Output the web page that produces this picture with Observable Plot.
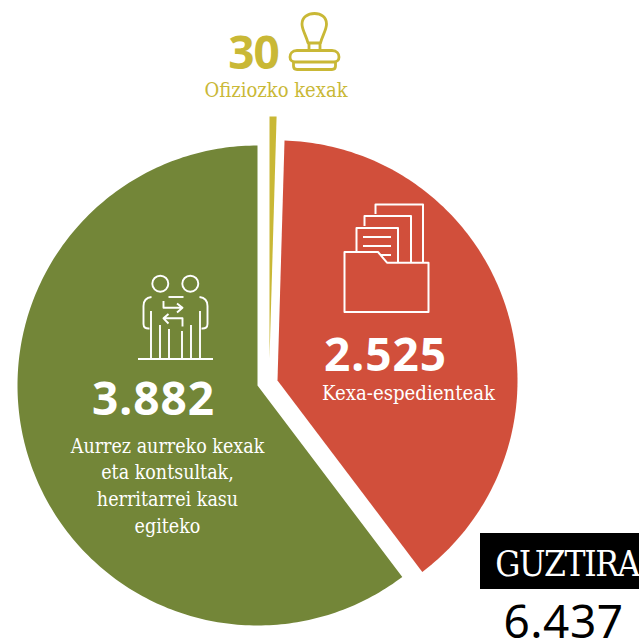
<!DOCTYPE html>
<html><head><meta charset="utf-8">
<style>html,body{margin:0;padding:0;background:#fff;overflow:hidden}svg{display:block}</style>
<script src="https://cdn.jsdelivr.net/npm/d3@7"></script>
<script src="https://cdn.jsdelivr.net/npm/@observablehq/plot@0.6"></script>
</head><body><div id="c"></div>
<script>
const categories = ["Ofiziozko kexak", "Kexa-espedienteak", "Aurrez aurreko kexak"];
const values = [30, 2525, 3882];
const valueLabels = ["30", "2.525", "3.882"];
const colors = ["#c9b836", "#d14f3b", "#738638"];
const totalLabel = "GUZTIRA";
const totalValue = "6.437";
const greenLines = ["Aurrez aurreko kexak", "eta kontsultak,", "herritarrei kasu", "egiteko"];

const slabFont = "'DejaVu Serif Condensed','DejaVu Serif',serif";
const numFont = "'Noto Sans',sans-serif";

// slice geometry: exploded centres and radii
const centres = [[269, 358, 242], [277, 380, 240], [257, 385, 240]];
const arcs = d3.pie().sort(null)(values);
const sliceRows = arcs.map((a, i) => {
  const [cx, cy, r] = centres[i];
  const n = Math.max(2, Math.ceil((a.endAngle - a.startAngle) * 60));
  const pts = [{x: cx, y: cy}];
  for (let k = 0; k <= n; k++) {
    const t = a.startAngle + (a.endAngle - a.startAngle) * k / n;
    pts.push({x: cx + r * Math.sin(t), y: cy - r * Math.cos(t)});
  }
  pts.push({x: cx, y: cy});
  return pts;
});

function icon(d) { // line icons drawn over the chart
  return () => {
    const g = d3.create("svg:g").attr("fill", "none").attr("stroke", d.color)
      .attr("stroke-width", d.w).attr("stroke-linejoin", "round");
    d.paths.forEach(p => g.append("path").attr("d", p));
    return g.node();
  };
}
const stamp = icon({color: colors[0], w: 2.8, paths: [
  "M308,43 C306,35 302,30 302,24 C302,17 308,13.5 314.5,13.5 C321,13.5 326.5,17 326.5,24 C326.5,30 322.5,35 320.5,43 Z",
  "M309,43 L309,50.5 M320,43 L320,50.5",
  "M297,50.5 L332,50.5 C337,50.5 339,54 339,57 C339,60 337,62 334,62 L295,62 C292,62 290,60 290,57 C290,54 292,50.5 297,50.5 Z",
  "M293.5,62 L293.5,66 Q293.5,69.5 297,69.5 L332,69.5 Q335.5,69.5 335.5,66 L335.5,62"
]});
const folder = icon({color: "#fff", w: 2, paths: [
  "M375.5,214 L375.5,204.5 L423,204.5 L423,262",
  "M364.5,226 L364.5,216 L411,216 L411,262",
  "M356.5,252 L356.5,228 L398,228 L398,262",
  "M363,237 L391,237 M363,246 L391,246 M380,255 L391,255",
  "M344.5,252 L378,252 L387,262.7 L428.5,262.7 L428.5,312 L344.5,312 Z"
]});
const people = icon({color: "#fff", w: 1.9, paths: [
  "M168.3,283.7 A8,8 0 1 1 152.3,283.7 A8,8 0 1 1 168.3,283.7 Z",
  "M198.3,283.7 A8,8 0 1 1 182.3,283.7 A8,8 0 1 1 198.3,283.7 Z",
  "M138,359 L213,359",
  "M151,311 L151,359 M160,325 L160,359 M169,329 L169,359 M182,331 L182,359 M191,325 L191,359 M200,311 L200,359",
  "M151.5,297 Q143.5,298 143.5,306 L143.5,324 Q143.5,329 149.5,328.5",
  "M199.5,297 Q207.5,298 207.5,306 L207.5,324 Q207.5,329 201.5,328.5",
  "M168.5,297 L183.5,297",
  "M163.5,301 L163.5,307.7 L182.5,307.7 M177,303.5 L182.5,307.7 L177,312.5",
  "M182.5,326.5 L182.5,318.3 L163.5,318.3 M168.5,314 L163.5,318.3 L168.5,323.5"
]});

const T = (txt, {spacing, ...o}) => Plot.text([txt], {
  text: d => d, textAnchor: "middle", lineAnchor: "bottom", ...o,
  render: (i, s, v, d, c, next) => {
    const g = next(i, s, v, d, c);
    if (spacing) g.setAttribute("letter-spacing", spacing);
    return g;
  }
});

const chart = Plot.plot({
  width: 639, height: 639, margin: 0,
  x: {domain: [0, 639], range: [0, 639], axis: null},
  y: {domain: [0, 639], range: [0, 639], axis: null},
  marks: [
    ...sliceRows.map((pts, i) => Plot.line(pts, {x: "x", y: "y", fill: colors[i], stroke: "none"})),
    Plot.rect([totalLabel], {x1: () => 480, x2: () => 639, y1: () => 533, y2: () => 589, fill: "#000"}),
    T(valueLabels[0], {x: () => 253, y: () => 68, fontFamily: numFont, fontWeight: 700, fontSize: 46, fill: colors[0], spacing: "-1px"}),
    T(categories[0], {x: () => 275.5, y: () => 96, fontFamily: slabFont, fontSize: 20, fill: colors[0]}),
    T(valueLabels[1], {x: () => 385, y: () => 370, fontFamily: numFont, fontWeight: 700, fontSize: 46, fill: "#fff", spacing: "1px"}),
    T(categories[1], {x: () => 408, y: () => 399, fontFamily: slabFont, fontSize: 20.2, fill: "#fff"}),
    T(valueLabels[2], {x: () => 153, y: () => 414, fontFamily: numFont, fontWeight: 700, fontSize: 46, fill: "#fff", spacing: "1px"}),
    ...greenLines.map((l, i) => T(l, {x: () => 167, y: () => [452, 478, 505, 532][i], fontFamily: slabFont, fontSize: 19.5, fill: "#fff"})),
    T(totalLabel, {x: () => 566.5, y: () => 575, fontFamily: slabFont, fontSize: 35, fill: "#fff", spacing: "-1.4px"}),
    T(totalValue, {x: () => 563, y: () => 637, fontFamily: numFont, fontSize: 46, fill: "#000", spacing: "0.5px"}),
    stamp, folder, people
  ]
});
document.getElementById("c").appendChild(chart);
</script></body></html>
